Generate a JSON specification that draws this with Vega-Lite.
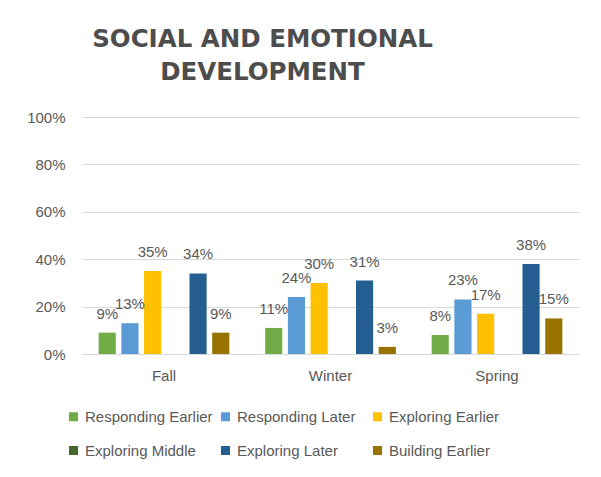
{
  "$schema": "https://vega.github.io/schema/vega-lite/v6.json",
  "width": 497,
  "height": 237,
  "autosize": {"type": "none"},
  "padding": {"left": 82, "top": 117, "right": 22, "bottom": 123},
  "background": "white",
  "config": {"view": {"stroke": null}},
  "title": {
    "text": ["SOCIAL AND EMOTIONAL", "DEVELOPMENT"],
    "font": "DejaVu Sans",
    "fontSize": 24.5,
    "fontWeight": "bold",
    "color": "#4d4d4d",
    "anchor": "middle",
    "frame": "group",
    "dx": -68,
    "lineHeight": 33,
    "offset": 25
  },
  "data": {
    "values": [
      {"season": "Fall", "level": "Responding Earlier", "value": 0.09},
      {"season": "Fall", "level": "Responding Later", "value": 0.13},
      {"season": "Fall", "level": "Exploring Earlier", "value": 0.35},
      {"season": "Fall", "level": "Exploring Middle", "value": null},
      {"season": "Fall", "level": "Exploring Later", "value": 0.34},
      {"season": "Fall", "level": "Building Earlier", "value": 0.09},
      {"season": "Winter", "level": "Responding Earlier", "value": 0.11},
      {"season": "Winter", "level": "Responding Later", "value": 0.24},
      {"season": "Winter", "level": "Exploring Earlier", "value": 0.30},
      {"season": "Winter", "level": "Exploring Middle", "value": null},
      {"season": "Winter", "level": "Exploring Later", "value": 0.31},
      {"season": "Winter", "level": "Building Earlier", "value": 0.03},
      {"season": "Spring", "level": "Responding Earlier", "value": 0.08},
      {"season": "Spring", "level": "Responding Later", "value": 0.23},
      {"season": "Spring", "level": "Exploring Earlier", "value": 0.17},
      {"season": "Spring", "level": "Exploring Middle", "value": null},
      {"season": "Spring", "level": "Exploring Later", "value": 0.38},
      {"season": "Spring", "level": "Building Earlier", "value": 0.15}
    ]
  },
  "encoding": {
    "x": {
      "field": "season",
      "type": "nominal",
      "sort": ["Fall", "Winter", "Spring"],
      "scale": {"paddingInner": 0.215, "paddingOuter": 0.1},
      "title": null,
      "axis": {
        "labelAngle": 0,
        "labelFont": "Liberation Sans",
        "labelFontSize": 15,
        "labelColor": "#595959",
        "labelPadding": 14,
        "ticks": false,
        "domainColor": "#d9d9d9",
        "domainWidth": 1
      }
    },
    "xOffset": {
      "field": "level",
      "type": "nominal",
      "scale": {
        "domain": ["Responding Earlier", "Responding Later", "Exploring Earlier", "Exploring Middle", "Exploring Later", "Building Earlier"],
        "paddingInner": 0.245,
        "paddingOuter": 0
      }
    },
    "y": {
      "field": "value",
      "type": "quantitative",
      "scale": {"domain": [0, 1]},
      "title": null,
      "axis": {
        "format": ".0%",
        "values": [0, 0.2, 0.4, 0.6, 0.8, 1],
        "labelFont": "Liberation Sans",
        "labelFontSize": 15,
        "labelColor": "#595959",
        "labelPadding": 17,
        "ticks": false,
        "domain": false,
        "gridColor": "#d9d9d9",
        "gridWidth": 1
      }
    }
  },
  "layer": [
    {
      "mark": {"type": "bar"},
      "encoding": {
        "color": {
          "field": "level",
          "type": "nominal",
          "scale": {
            "domain": ["Responding Earlier", "Responding Later", "Exploring Earlier", "Exploring Middle", "Exploring Later", "Building Earlier"],
            "range": ["#70AD47", "#5B9BD5", "#FFC000", "#43682B", "#255E91", "#997300"]
          },
          "legend": {
            "title": null,
            "orient": "none",
            "legendX": -16,
            "legendY": 292,
            "direction": "horizontal",
            "columns": 3,
            "gridAlign": "all",
            "symbolType": "square",
            "symbolSize": 81,
            "symbolStrokeWidth": 0,
            "labelFont": "Liberation Sans",
            "labelFontSize": 15,
            "labelColor": "#595959",
            "labelOffset": 4,
            "columnPadding": 5,
            "rowPadding": 18,
            "labelLimit": 300
          }
        }
      }
    },
    {
      "mark": {
        "type": "text",
        "font": "Liberation Sans",
        "fontSize": 15,
        "color": "#595959",
        "baseline": "alphabetic",
        "dy": -14
      },
      "encoding": {
        "text": {"field": "value", "type": "quantitative", "format": ".0%"}
      }
    }
  ]
}
